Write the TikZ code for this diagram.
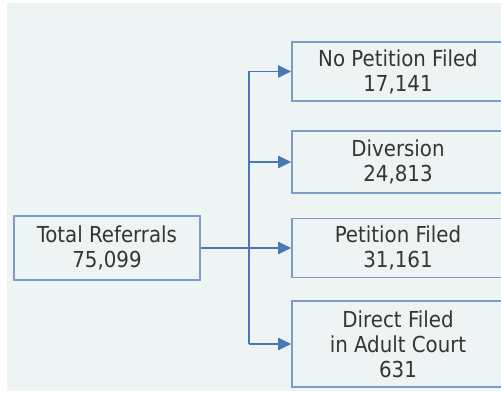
\documentclass[tikz,border=0pt]{standalone}
\usepackage{fontspec}
\setmainfont{DejaVu Sans Condensed}
\usetikzlibrary{arrows.meta}
\definecolor{bgc}{HTML}{EEF3F4}
\definecolor{boxc}{HTML}{7C9CC4}
\definecolor{arrc}{HTML}{4A78B4}
\definecolor{txtc}{HTML}{353535}
\begin{document}
\begin{tikzpicture}[x=1pt,y=-1pt,
  box/.style={draw=boxc, line width=1.6pt, fill=bgc, inner sep=0pt, align=center,
    text=txtc, font=\fontsize{22}{25}\selectfont},
  conn/.style={draw=arrc, line width=1.9pt},
  tip/.style={conn, -{Triangle[length=13pt,width=12pt]}}]
\useasboundingbox (0,0) rectangle (501,393);
\fill[white] (0,0) rectangle (501,393);
\fill[bgc] (7,3) rectangle (501,391);
\node[box, minimum width=186pt, minimum height=64pt] (tot) at (107,248) {Total Referrals\\75,099};
\node[box, minimum width=212pt, minimum height=59pt] (np) at (398,71.5) {No Petition Filed\\17,141};
\node[box, minimum width=212pt, minimum height=62pt] (dv) at (398,162) {Diversion\\24,813};
\node[box, minimum width=212pt, minimum height=59pt] (pf) at (398,248) {Petition Filed\\31,161};
\node[box, minimum width=212pt, minimum height=86pt] (df) at (398,344) {Direct Filed\\in Adult Court\\631};
\coordinate (jt) at (249,71.5);
\coordinate (jb) at (249,344);
\draw[conn] (jt) -- (jb);
\draw[tip] (tot.east) -- (pf.west);
\draw[tip] (jt) -- (np.west);
\draw[tip] (jt |- dv.west) -- (dv.west);
\draw[tip] (jb) -- (df.west);
\end{tikzpicture}
\end{document}
